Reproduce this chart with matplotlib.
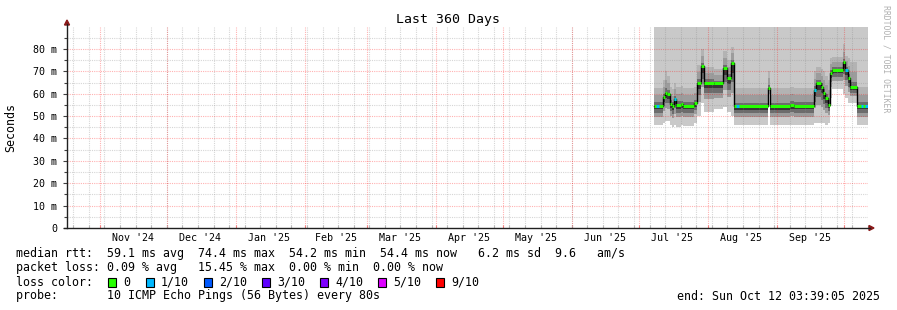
import numpy as np
import pandas as pd
import matplotlib
matplotlib.use("Agg")
import matplotlib.pyplot as plt
from matplotlib.patches import Rectangle, Polygon

# Canvas & config
W, H = 897, 310
START = pd.Timestamp("2024-10-17 03:39:05")
END = pd.Timestamp("2025-10-12 03:39:05")
Y_TOP = 89.8  # ms at the top of the plot area
MONO = "DejaVu Sans Mono"

# Data: step segments of the smokeping RRD (ms)
seg_start = [
    "2025-07-08 00:00", "2025-07-12 00:00", "2025-07-13 00:00", "2025-07-14 00:00", "2025-07-15 00:00",
    "2025-07-16 00:00", "2025-07-17 00:00", "2025-07-18 00:00", "2025-07-20 00:00", "2025-07-21 00:00",
    "2025-07-26 00:00", "2025-07-27 12:00", "2025-07-29 00:00", "2025-07-30 12:00", "2025-08-04 00:00",
    "2025-08-08 00:00", "2025-08-10 00:00", "2025-08-11 12:00", "2025-08-13 00:00", "2025-08-28 00:00",
    "2025-08-29 00:00", "2025-09-07 00:00", "2025-09-09 00:00", "2025-09-18 00:00", "2025-09-19 00:00",
    "2025-09-21 00:00", "2025-09-22 00:00", "2025-09-23 00:00", "2025-09-24 00:00", "2025-09-25 00:00",
    "2025-09-26 00:00", "2025-10-01 00:00", "2025-10-02 00:00", "2025-10-03 00:00", "2025-10-04 00:00",
    "2025-10-07 00:00",
]
median_ms = [
    54.6, 58.5, 60.5, 60.0, 55.5,
    54.6, 57.7, 55.0, 55.3, 54.7,
    55.8, 64.7, 72.4, 65.0, 64.6,
    71.5, 67.0, 73.7, 54.3, 62.5,
    54.3, 55.0, 54.5, 61.7, 64.7,
    63.2, 60.2, 58.0, 55.0, 69.1,
    70.6, 74.0, 70.6, 66.9, 62.8,
    54.5,
]
low_ms = [
    46.0, 47.0, 48.0, 48.0, 46.0,
    45.0, 46.0, 45.0, 46.0, 45.5,
    47.0, 50.0, 56.0, 52.0, 53.0,
    54.0, 52.0, 50.0, 46.0, 60.0,
    46.0, 46.0, 46.0, 47.0, 47.0,
    47.0, 47.0, 46.0, 47.0, 58.0,
    62.0, 60.0, 58.0, 56.0, 56.0,
    46.0,
]
high_ms = [
    62.5, 66.0, 70.0, 68.0, 63.0,
    62.0, 65.0, 63.0, 63.5, 62.5,
    63.0, 73.0, 80.0, 72.0, 71.0,
    79.0, 75.0, 81.0, 62.5, 70.0,
    62.5, 63.0, 62.5, 70.0, 72.0,
    71.0, 70.0, 68.0, 66.0, 76.0,
    76.5, 82.0, 77.0, 76.0, 74.0,
    63.0,
]
# days where 1/10 pings were lost
blue_loss_days = ["2025-07-09", "2025-07-17", "2025-08-14", "2025-09-18",
                  "2025-10-02", "2025-10-09", "2025-10-11"]

month_labels = ["Nov '24", "Dec '24", "Jan '25", "Feb '25", "Mar '25", "Apr '25",
                "May '25", "Jun '25", "Jul '25", "Aug '25", "Sep '25"]
label_dates = ["2024-11-16", "2024-12-16", "2025-01-16", "2025-02-15", "2025-03-16",
               "2025-04-16", "2025-05-16", "2025-06-16", "2025-07-16", "2025-08-16",
               "2025-09-16"]

loss_names = ["0", "1/10", "2/10", "3/10", "4/10", "5/10", "9/10"]
loss_colors = ["#26ff00", "#00b8ff", "#0059ff", "#5e00ff", "#7e00ff", "#dd00ff", "#ff0000"]
loss_box_x = [108, 146, 204, 262, 320, 378, 436]

legend_lines = [
    "median rtt:  59.1 ms avg  74.4 ms max  54.2 ms min  54.4 ms now   6.2 ms sd  9.6   am/s",
    "packet loss: 0.09 % avg   15.45 % max  0.00 % min  0.00 % now",
    "loss color:",
    "probe:       10 ICMP Echo Pings (56 Bytes) every 80s",
]


def fx(x):
    return x / W


def fy(y):
    return 1 - y / H


fig = plt.figure(figsize=(W / 100, H / 100), dpi=100)
ax = fig.add_axes([fx(67), fy(228), (868 - 67) / W, (228 - 27) / H])

# Smoke
starts = pd.to_datetime(seg_start, format="%Y-%m-%d %H:%M")
t = starts.append(pd.DatetimeIndex([END]))
med = np.append(median_ms, median_ms[-1])
lo = np.append(low_ms, low_ms[-1])
hi = np.append(high_ms, high_ms[-1])
d_lo = med - lo
d_hi = hi - med

ax.fill_between(t, lo, Y_TOP, step="post", color="#c9c9c9", lw=0, zorder=1)
ax.fill_between(t, med, hi, step="post", color="#b3b3b3", lw=0, zorder=1)
ax.fill_between(t, med - 0.56 * d_lo, med + 0.6 * d_hi, step="post", color="#9c9c9c", lw=0, zorder=1)
ax.fill_between(t, med - 0.36 * d_lo, med + 0.2 * d_hi, step="post", color="#6c6c6c", lw=0, zorder=1)
ax.fill_between(t, med - 0.18 * d_lo, med, step="post", color="#363636", lw=0, zorder=1)

# Grid (semi-transparent, drawn over the smoke like rrdtool)
dash = (0, (1, 1))
grid_minor = (0.55, 0.55, 0.55, 0.35)
grid_major = (1.0, 0.0, 0.0, 0.3)
weeks = pd.date_range(START.normalize(), END, freq="W-SUN")
months = pd.date_range(START, END, freq="MS")
for v in np.arange(5, Y_TOP, 10):
    ax.axhline(v, color=grid_minor, lw=0.8, ls=dash, zorder=2)
for d in weeks:
    ax.axvline(d, color=grid_minor, lw=0.8, ls=dash, zorder=2)
for v in np.arange(10, Y_TOP, 10):
    ax.axhline(v, color=grid_major, lw=0.8, ls=dash, zorder=2)
for d in months:
    ax.axvline(d, color=grid_major, lw=0.8, ls=dash, zorder=2)

# Median line
ax.step(t, med, where="post", color="black", lw=1, zorder=3)
ax.hlines(median_ms, t[:-1], t[1:], color=loss_colors[0], lw=2.2, zorder=4)
for d in pd.to_datetime(blue_loss_days):
    i = np.searchsorted(starts, d, side="right") - 1
    ax.hlines(median_ms[i], d, d + pd.Timedelta(days=1), color=loss_colors[1], lw=2.2, zorder=5)

# Axes
ax.set_xlim(START, END)
ax.set_ylim(0, Y_TOP)
for s in ["top", "right", "left", "bottom"]:
    ax.spines[s].set_visible(False)

ax.set_yticks(np.arange(0, 81, 10))
ax.set_yticks(np.arange(5, 90, 10), minor=True)
ax.set_yticklabels(["0"] + [f"{v} m" for v in range(10, 81, 10)], fontfamily=MONO, fontsize=7.2)
ax.tick_params(axis="y", which="major", length=3, width=0.8, color="#404040", pad=4)
ax.tick_params(axis="y", which="minor", length=2, width=0.8, color="#404040")

ax.set_xticks(months)
ax.set_xticks(weeks, minor=True)
ax.set_xticklabels([])
ax.tick_params(axis="x", which="major", length=2, width=0.8, color="#f09090", direction="in")
ax.tick_params(axis="x", which="minor", length=2, width=0.8, color="#c0c0c0", direction="in")

for lab, d in zip(month_labels, pd.to_datetime(label_dates)):
    ax.text(d, -0.05, lab, transform=ax.get_xaxis_transform(), ha="center", va="center",
            fontfamily=MONO, fontsize=7.2)

# Axis lines with arrows
fig.add_artist(plt.Line2D([fx(67), fx(67)], [fy(228), fy(24)], color="#202020", lw=1))
fig.add_artist(plt.Line2D([fx(64), fx(870)], [fy(228), fy(228)], color="#202020", lw=1))
fig.patches.append(Polygon([[fx(64.5), fy(25)], [fx(69.5), fy(25)], [fx(67), fy(20)]],
                           closed=True, color="#8b1a1a", transform=fig.transFigure))
fig.patches.append(Polygon([[fx(869), fy(225.5)], [fx(869), fy(230.5)], [fx(874), fy(228)]],
                           closed=True, color="#8b1a1a", transform=fig.transFigure))

# Titles
fig.text(fx(448), fy(19), "Last 360 Days", ha="center", va="center", fontfamily=MONO, fontsize=9.5)
fig.text(fx(11), fy(127), "Seconds", ha="center", va="center", rotation=90,
         fontfamily=MONO, fontsize=8.4)
fig.text(fx(886), fy(5), "RRDTOOL / TOBI OETIKER", ha="center", va="top", rotation=270,
         fontfamily=MONO, fontsize=5.9, color="#b0b0b0")

# Legend
for i, line in enumerate(legend_lines):
    fig.text(fx(16), fy(254 + 14 * i), line, ha="left", va="center", fontfamily=MONO, fontsize=8.4)
for x, name, c in zip(loss_box_x, loss_names, loss_colors):
    fig.patches.append(Rectangle((fx(x), fy(287)), 8 / W, 9 / H, facecolor=c, edgecolor="black",
                                 lw=0.8, transform=fig.transFigure))
    fig.text(fx(x + 15), fy(282), name, ha="left", va="center", fontfamily=MONO, fontsize=8.4)
fig.text(fx(880), fy(296), "end: Sun Oct 12 03:39:05 2025", ha="right", va="center",
         fontfamily=MONO, fontsize=8.4)

fig.savefig("out.png", dpi=100, facecolor="white")
